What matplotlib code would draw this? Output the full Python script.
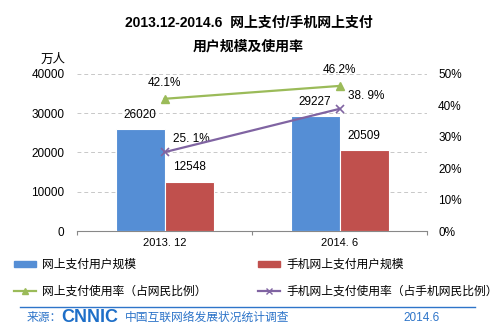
import matplotlib
matplotlib.use("Agg")
import matplotlib.pyplot as plt
from matplotlib.lines import Line2D
from matplotlib.patches import Patch
import numpy as np

plt.rcParams['font.family'] = ['Liberation Sans', 'Noto Sans CJK SC', 'DejaVu Sans']

categories = ['2013. 12', '2014. 6']
online_users = [26020, 29227]
mobile_users = [12548, 20509]
online_rate = [42.1, 46.2]
mobile_rate = [25.1, 38.9]
online_rate_labels = ['42.1%', '46.2%']
mobile_rate_labels = ['25. 1%', '38. 9%']
left_ticks = [0, 10000, 20000, 30000, 40000]
right_ticks = [0, 10, 20, 30, 40, 50]

series_names = ['网上支付用户规模', '手机网上支付用户规模',
                '网上支付使用率（占网民比例）', '手机网上支付使用率（占手机网民比例）']

BLUE = '#558ED5'
RED = '#C0504D'
GREEN = '#9BBB59'
PURPLE = '#8064A2'
FOOT = '#2E75C9'

fig = plt.figure(figsize=(5.0, 3.33), dpi=100)
fig.patch.set_facecolor('white')

ax = fig.add_axes([0.154, 0.3063, 0.70, 0.4715])
ax.patch.set_alpha(0)
x = np.arange(len(categories))
w = 0.28
ax.bar(x - w / 2, online_users, w, color=BLUE, edgecolor='white', linewidth=0.8, zorder=3)
ax.bar(x + w / 2, mobile_users, w, color=RED, edgecolor='white', linewidth=0.8, zorder=3)
ax.set_xlim(-0.5, 1.5)
ax.set_ylim(0, 40000)
ax.set_yticks(left_ticks)
ax.set_yticklabels([str(t) for t in left_ticks], fontsize=8.5)
ax.yaxis.grid(True, linestyle=(0, (4, 3)), color='#c8c8c8', linewidth=0.7)
ax.set_axisbelow(True)
for s in ['left', 'right', 'top']:
    ax.spines[s].set_visible(False)
ax.spines['bottom'].set_color('#888888')
ax.tick_params(axis='y', length=0, pad=9)
ax.set_xticks([-0.5, 0.5, 1.5])
ax.set_xticklabels([])
ax.set_xticks(x, minor=True)
ax.set_xticklabels(categories, minor=True, fontsize=8)
ax.tick_params(axis='x', which='major', length=3, color='#888888')
ax.tick_params(axis='x', which='minor', length=0, pad=5)

for i in range(len(categories)):
    ax.annotate(str(online_users[i]), (x[i] - w / 2, online_users[i]), xytext=(0, 6),
                textcoords='offset points', ha='center', va='bottom', fontsize=8.5)
    ax.annotate(str(mobile_users[i]), (x[i] + w / 2, mobile_users[i]), xytext=(0, 6),
                textcoords='offset points', ha='center', va='bottom', fontsize=8.5)

ax2 = ax.twinx()
ax2.set_ylim(0, 50)
ax2.set_yticks(right_ticks)
ax2.set_yticklabels([f'{t}%' for t in right_ticks], fontsize=8.5)
for s in ['left', 'right', 'top', 'bottom']:
    ax2.spines[s].set_visible(False)
ax2.tick_params(axis='y', length=0, pad=8)
ax2.plot(x, online_rate, color=GREEN, lw=1.6, marker='^', ms=6, zorder=5)
ax2.plot(x, mobile_rate, color=PURPLE, lw=1.6, marker='x', ms=6, mew=1.2, zorder=5)
for i in range(len(categories)):
    ax2.annotate(online_rate_labels[i], (x[i], online_rate[i]), xytext=(0, 7),
                 textcoords='offset points', ha='center', va='bottom', fontsize=8.5)
    ax2.annotate(mobile_rate_labels[i], (x[i], mobile_rate[i]), xytext=(6, 5),
                 textcoords='offset points', ha='left', va='bottom', fontsize=8.5)

# titles
fig.text(0.497, 1 - 23 / 333, '2013.12-2014.6  网上支付/手机网上支付', ha='center', va='center',
         fontsize=10, fontweight='bold')
fig.text(0.497, 1 - 46 / 333, '用户规模及使用率', ha='center', va='center',
         fontsize=10, fontweight='bold')
fig.text(53 / 500, 1 - 60 / 333, '万人', ha='center', va='center', fontsize=9)

handles = [Patch(color=BLUE), Patch(color=RED),
           Line2D([], [], color=GREEN, marker='^', ms=5, lw=1.6),
           Line2D([], [], color=PURPLE, marker='x', ms=5, lw=1.6)]
order = [0, 2, 1, 3]
leg = fig.legend([handles[i] for i in order], [series_names[i] for i in order], ncol=2,
                 loc='upper left', bbox_to_anchor=(0.028, 1 - 259 / 333), frameon=False,
                 fontsize=8.5, handlelength=1.9, handleheight=0.4, handletextpad=0.5,
                 columnspacing=4.3, labelspacing=1.25, borderaxespad=0, borderpad=0)

fig.add_artist(Line2D([20 / 500, 475 / 500], [1 - 307 / 333] * 2, color=FOOT, lw=1))
yf = 1 - 318 / 333
fig.text(27 / 500, yf, '来源：', color=FOOT, fontsize=8.5, va='center')
fig.text(61 / 500, yf, 'CNNIC', color='#1E6FC8', fontsize=13, fontweight='bold', va='center')
fig.text(125 / 500, yf, '中国互联网络发展状况统计调查', color=FOOT, fontsize=8.5, va='center')
fig.text(403 / 500, yf, '2014.6', color=FOOT, fontsize=8.5, va='center')

fig.savefig('out.png', dpi=100)
